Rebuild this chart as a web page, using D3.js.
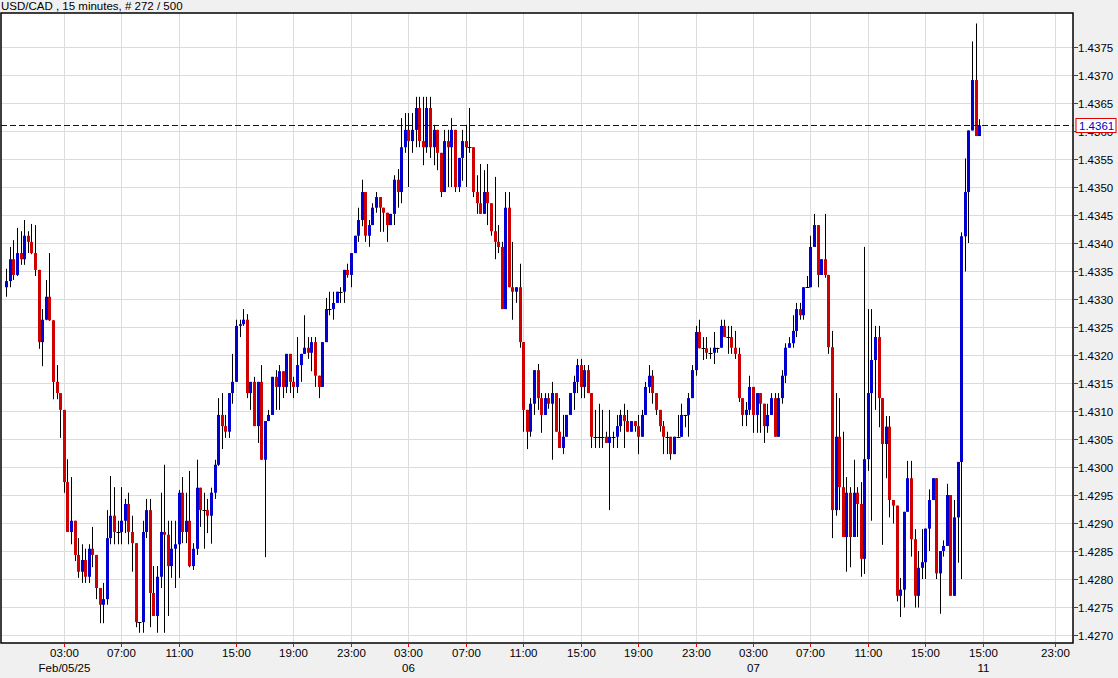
<!DOCTYPE html>
<html><head><meta charset="utf-8">
<script src="https://cdn.jsdelivr.net/npm/d3@7"></script>
<style>body{margin:0;background:#f0f0f0;}svg{display:block;}</style>
</head><body>
<script>
const title = "USD/CAD , 15 minutes, # 272 / 500";
const firstOpen = 1.43321;
const closes = [
1.43332,1.43371,1.43343,1.43382,1.43371,1.43413,1.43402,1.43382,1.43352,1.43223,
1.43263,1.43304,1.43262,1.43152,1.43132,1.43102,1.42973,1.42884,1.42904,1.42843,
1.42813,1.42834,1.42804,1.42854,1.42843,1.42784,1.42754,1.42764,1.42873,1.42913,
1.42884,1.42884,1.42904,1.42934,1.42884,1.42864,1.42723,1.42723,1.42884,1.42923,
1.42775,1.42734,1.42804,1.42884,1.42879,1.42823,1.42854,1.42862,1.42954,1.42884,
1.42904,1.42823,1.42854,1.42963,1.42923,1.42923,1.42913,1.42954,1.43004,1.43093,
1.43073,1.43063,1.43132,1.43152,1.43252,1.43255,1.43263,1.43132,1.43152,1.43073,
1.43152,1.43013,1.43082,1.43093,1.43161,1.43143,1.43171,1.43143,1.43202,1.43152,
1.43143,1.43182,1.43202,1.43213,1.43204,1.43223,1.43163,1.43143,1.43223,1.43282,
1.43282,1.43293,1.43313,1.43313,1.43352,1.43343,1.43382,1.43413,1.43441,1.43491,
1.43413,1.43432,1.43463,1.43482,1.43463,1.43454,1.43432,1.43452,1.43513,1.43491,
1.43571,1.43602,1.43582,1.43602,1.43641,1.43582,1.43571,1.43641,1.43571,1.43602,
1.43561,1.43491,1.43582,1.43571,1.43602,1.43500,1.43552,1.43582,1.43571,1.43571,
1.43491,1.43471,1.43452,1.43491,1.43471,1.43421,1.43402,1.43393,1.43282,1.43463,
1.43321,1.43313,1.43321,1.43223,1.43102,1.43063,1.43113,1.43173,1.43123,1.43093,
1.43123,1.43113,1.43132,1.43063,1.43034,1.43054,1.43093,1.43132,1.43152,1.43182,
1.43143,1.43173,1.43132,1.43054,1.43054,1.43054,1.43054,1.43043,1.43054,1.43054,
1.43073,1.43093,1.43082,1.43063,1.43082,1.43073,1.43054,1.43093,1.43143,1.43163,
1.43132,1.43102,1.43073,1.43054,1.43054,1.43023,1.43054,1.43054,1.43093,1.43093,
1.43123,1.43173,1.43241,1.43212,1.43212,1.43204,1.43204,1.43213,1.43213,1.43252,
1.43232,1.43232,1.43213,1.43202,1.43123,1.43093,1.43102,1.43143,1.43093,1.43132,
1.43113,1.43073,1.43093,1.43123,1.43054,1.43123,1.43163,1.43213,1.43221,1.43243,
1.43282,1.43271,1.43321,1.43321,1.43393,1.43432,1.43343,1.43371,1.43343,1.43214,
1.42923,1.43054,1.42964,1.42875,1.42954,1.42875,1.42954,1.42934,1.42836,1.43014,
1.43132,1.43191,1.43232,1.43123,1.43041,1.43072,1.42941,1.42931,1.42770,1.42781,
1.42920,1.42980,1.42871,1.42770,1.42820,1.42830,1.42890,1.42941,1.42980,1.42810,
1.42850,1.42859,1.42950,1.42770,1.42910,1.43009,1.43412,1.43491,1.43601,1.43691,
1.43591,1.43610];
const highs = [
1.43354,1.43393,1.43405,1.43427,1.43421,1.43441,1.43421,1.43434,1.43432,1.43352,
1.43282,1.43334,1.43382,1.43262,1.43182,1.43132,1.43102,1.43014,1.42982,1.42904,
1.42873,1.42862,1.42854,1.42862,1.42893,1.42843,1.42784,1.42793,1.42923,1.42984,
1.42964,1.42904,1.42964,1.42943,1.42954,1.42913,1.42864,1.42723,1.42904,1.42943,
1.42943,1.42823,1.42823,1.42954,1.43004,1.42904,1.42904,1.42904,1.42959,1.42982,
1.42954,1.42993,1.42864,1.43013,1.42963,1.42954,1.42943,1.42963,1.43013,1.43123,
1.43132,1.43093,1.43132,1.43202,1.43263,1.43263,1.43282,1.43273,1.43152,1.43161,
1.43152,1.43182,1.43082,1.43102,1.43161,1.43173,1.43182,1.43171,1.43202,1.43202,
1.43161,1.43232,1.43202,1.43271,1.43232,1.43232,1.43232,1.43161,1.43223,1.43302,
1.43313,1.43313,1.43313,1.43321,1.43352,1.43363,1.43382,1.43413,1.43463,1.43513,
1.43491,1.43441,1.43471,1.43491,1.43482,1.43463,1.43454,1.43452,1.43521,1.43532,
1.43623,1.43632,1.43632,1.43632,1.43661,1.43661,1.43661,1.43661,1.43661,1.43611,
1.43602,1.43561,1.43602,1.43602,1.43623,1.43602,1.43552,1.43602,1.43611,1.43641,
1.43571,1.43521,1.43541,1.43530,1.43541,1.43463,1.43518,1.43432,1.43402,1.43491,
1.43491,1.43402,1.43321,1.43363,1.43223,1.43102,1.43123,1.43173,1.43184,1.43132,
1.43132,1.43132,1.43152,1.43132,1.43123,1.43093,1.43093,1.43132,1.43163,1.43193,
1.43193,1.43182,1.43182,1.43132,1.43102,1.43113,1.43102,1.43063,1.43102,1.43063,
1.43093,1.43102,1.43113,1.43102,1.43082,1.43082,1.43093,1.43102,1.43152,1.43182,
1.43173,1.43132,1.43102,1.43082,1.43063,1.43054,1.43054,1.43093,1.43113,1.43093,
1.43132,1.43182,1.43252,1.43263,1.43232,1.43232,1.43213,1.43241,1.43213,1.43263,
1.43263,1.43252,1.43252,1.43243,1.43213,1.43123,1.43116,1.43163,1.43143,1.43132,
1.43132,1.43113,1.43113,1.43132,1.43132,1.43132,1.43173,1.43221,1.43232,1.43271,
1.43293,1.43293,1.43321,1.43341,1.43413,1.43452,1.43432,1.43371,1.43452,1.43343,
1.43243,1.43132,1.43123,1.43063,1.42982,1.42964,1.43013,1.42964,1.42973,1.43393,
1.43282,1.43282,1.43252,1.43252,1.43123,1.43091,1.43091,1.42941,1.42931,1.42802,
1.42920,1.43011,1.43011,1.42889,1.42850,1.42889,1.42890,1.42960,1.42980,1.42980,
1.42850,1.42869,1.42970,1.42950,1.42941,1.43009,1.43419,1.43551,1.43601,1.43760,
1.43792,1.43621];
const lows = [
1.43304,1.43321,1.43334,1.43341,1.43361,1.43361,1.43382,1.43380,1.43341,1.43211,
1.43180,1.43262,1.43261,1.43121,1.43121,1.43052,1.42954,1.42884,1.42862,1.42832,
1.42802,1.42793,1.42793,1.42793,1.42821,1.42764,1.42721,1.42721,1.42754,1.42862,
1.42862,1.42862,1.42862,1.42882,1.42862,1.42813,1.42714,1.42704,1.42704,1.42873,
1.42714,1.42734,1.42704,1.42784,1.42704,1.42734,1.42802,1.42784,1.42802,1.42864,
1.42864,1.42821,1.42816,1.42843,1.42893,1.42854,1.42882,1.42863,1.42943,1.43002,
1.43032,1.43052,1.43052,1.43113,1.43152,1.43232,1.43252,1.43123,1.43102,1.43073,
1.43043,1.43013,1.42839,1.43093,1.43093,1.43102,1.43102,1.43123,1.43132,1.43132,
1.43123,1.43132,1.43152,1.43202,1.43193,1.43171,1.43143,1.43123,1.43143,1.43223,
1.43271,1.43263,1.43293,1.43293,1.43293,1.43338,1.43321,1.43382,1.43402,1.43430,
1.43402,1.43393,1.43432,1.43454,1.43420,1.43420,1.43402,1.43432,1.43432,1.43463,
1.43471,1.43561,1.43500,1.43561,1.43571,1.43571,1.43539,1.43561,1.43552,1.43539,
1.43530,1.43482,1.43491,1.43500,1.43500,1.43491,1.43491,1.43511,1.43500,1.43561,
1.43482,1.43452,1.43452,1.43452,1.43432,1.43413,1.43371,1.43382,1.43282,1.43282,
1.43321,1.43263,1.43293,1.43213,1.43063,1.43032,1.43054,1.43093,1.43102,1.43061,
1.43093,1.43104,1.43013,1.43063,1.43034,1.43023,1.43054,1.43093,1.43102,1.43132,
1.43123,1.43123,1.43132,1.43034,1.43034,1.43034,1.43034,1.43043,1.42923,1.43034,
1.43034,1.43063,1.43034,1.43063,1.43063,1.43063,1.43023,1.43054,1.43093,1.43132,
1.43113,1.43093,1.43063,1.43023,1.43023,1.43013,1.43023,1.43054,1.43054,1.43071,
1.43054,1.43123,1.43163,1.43212,1.43191,1.43193,1.43193,1.43184,1.43204,1.43213,
1.43232,1.43202,1.43202,1.43193,1.43116,1.43073,1.43073,1.43093,1.43061,1.43061,
1.43061,1.43043,1.43061,1.43093,1.43054,1.43054,1.43113,1.43150,1.43213,1.43213,
1.43232,1.43263,1.43263,1.43321,1.43321,1.43393,1.43321,1.43343,1.43338,1.43202,
1.42873,1.42913,1.42923,1.42875,1.42813,1.42821,1.42875,1.42875,1.42804,1.42809,
1.42993,1.42904,1.43102,1.43071,1.42861,1.42980,1.42910,1.42899,1.42760,1.42732,
1.42749,1.42920,1.42840,1.42749,1.42749,1.42800,1.42800,1.42850,1.42941,1.42800,
1.42738,1.42840,1.42859,1.42770,1.42800,1.42829,1.42800,1.43349,1.43400,1.43601,
1.43591,1.43591];
const xTickIdx = [16,32,48,64,80,96,112,128,144,160,176,192,208,224,240,256,272,292];
const xTickLabels = ["03:00","07:00","11:00","15:00","19:00","23:00","03:00","07:00","11:00","15:00","19:00","23:00","03:00","07:00","11:00","15:00","15:00","23:00"];
const xDateLabels = ["Feb/05/25","","","","","","06","","","","","","07","","","","11",""];
const yTicks = [1.4270,1.4275,1.4280,1.4285,1.4290,1.4295,1.4300,1.4305,1.4310,1.4315,1.4320,1.4325,1.4330,1.4335,1.4340,1.4345,1.4350,1.4355,1.4360,1.4365,1.4370,1.4375];
const lastPrice = 1.4361;

const W=1118,H=678, L=1, R=1073, T=13, B=643;
const svg=d3.select("body").append("svg").attr("width",W).attr("height",H).style("font-family","'Liberation Sans',Arial,sans-serif");
svg.append("rect").attr("width",W).attr("height",H).attr("fill","#f0f0f0");
svg.append("rect").attr("x",L).attr("y",T).attr("width",R-L).attr("height",B-T).attr("fill","#fff");
const x=d3.scaleLinear().domain([0,292]).range([6.3,6.3+292*3.59]);
const y=d3.scaleLinear().domain([1.4270,1.4375]).range([635,47]);
const g=svg.append("g");
g.selectAll(".hg").data(yTicks).join("line").attr("x1",L).attr("x2",R).attr("y1",d=>Math.round(y(d))+0.5).attr("y2",d=>Math.round(y(d))+0.5).attr("stroke","#dcdcdc");
g.selectAll(".vg").data(xTickIdx).join("line").attr("x1",d=>Math.round(x(d))+0.5).attr("x2",d=>Math.round(x(d))+0.5).attr("y1",T).attr("y2",B).attr("stroke","#dcdcdc");
// candles
const data=closes.map((c,i)=>({i,o:i?closes[i-1]:firstOpen,c,h:highs[i],l:lows[i]}));
const cg=svg.append("g");
data.forEach(d=>{
  const cx=Math.round(x(d.i))+0.5;
  const hi=Math.max(d.h,d.o,d.c), lo=Math.min(d.l,d.o,d.c);
  cg.append("line").attr("x1",cx).attr("x2",cx).attr("y1",y(hi)).attr("y2",y(lo)).attr("stroke","#000");
  const top=y(Math.max(d.o,d.c)), bot=y(Math.min(d.o,d.c));
  if(Math.abs(bot-top)<1){
    cg.append("line").attr("x1",cx-2).attr("x2",cx+2).attr("y1",Math.round(top)+0.5).attr("y2",Math.round(top)+0.5).attr("stroke","#000");
  } else {
    cg.append("rect").attr("x",cx-1.5).attr("y",top).attr("width",3).attr("height",bot-top).attr("fill",d.c>d.o?"#0000d0":"#d00000");
  }
});
// last price line
const ly=Math.round(y(lastPrice))+0.5;
svg.append("line").attr("x1",L).attr("x2",R).attr("y1",ly).attr("y2",ly).attr("stroke","#0000c8").attr("stroke-dasharray","6,3");
// border
svg.append("rect").attr("x",L).attr("y",T).attr("width",R-L).attr("height",B-T).attr("fill","none").attr("stroke","#000").attr("stroke-width",1.5);
// y axis
yTicks.forEach(v=>{
  const yy=Math.round(y(v))+0.5;
  svg.append("line").attr("x1",R).attr("x2",R+5).attr("y1",yy).attr("y2",yy).attr("stroke","#e00000");
  svg.append("text").attr("x",R+5).attr("y",yy+4).attr("font-size",11.5).attr("fill","#000").text(v.toFixed(4));
});
svg.append("rect").attr("x",R+3).attr("y",ly-7).attr("width",40).attr("height",14).attr("fill","#fff").attr("stroke","#e00000");
svg.append("text").attr("x",R+6).attr("y",ly+4).attr("font-size",11.5).attr("fill","#0000c8").text(lastPrice.toFixed(4));
// x axis
xTickIdx.forEach((t,k)=>{
  const xx=Math.round(x(t))+0.5;
  svg.append("line").attr("x1",xx).attr("x2",xx).attr("y1",B).attr("y2",B+4).attr("stroke","#e00000");
  svg.append("text").attr("x",xx).attr("y",B+14).attr("text-anchor","middle").attr("font-size",11.5).text(xTickLabels[k]);
  if(xDateLabels[k]) svg.append("text").attr("x",xx).attr("y",B+29).attr("text-anchor","middle").attr("font-size",11.5).text(xDateLabels[k]);
});
svg.append("text").attr("x",1).attr("y",10).attr("font-size",11.5).text(title);
</script>
</body></html>
